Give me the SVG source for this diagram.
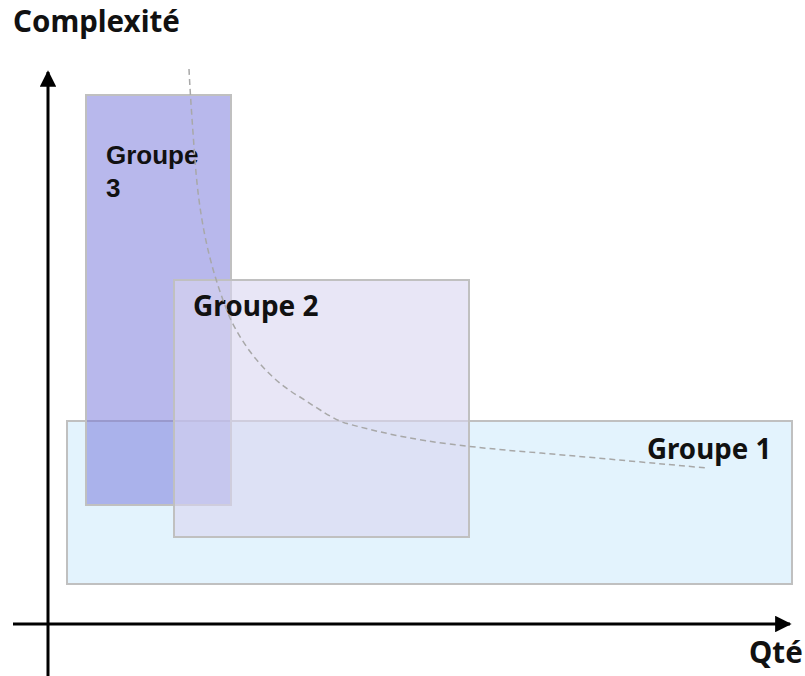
<svg xmlns="http://www.w3.org/2000/svg" width="805" height="676" viewBox="0 0 805 676">
  <style>
    .box { stroke: #c0c0c0; stroke-width: 2; }
    .lbl { font-family: "Noto Sans", "DejaVu Sans", sans-serif; font-weight: bold; fill: #111111; }
    .lbl3 { font-family: "Liberation Sans", Arial, sans-serif; font-weight: bold; fill: #111111; font-size: 26px; }
    .axis { stroke: #000000; stroke-width: 3; fill: none; }
  </style>
  <defs>
    <marker id="arr" viewBox="0 0 10 10" refX="9" refY="5" markerWidth="5.5" markerHeight="5.5" markerUnits="strokeWidth" orient="auto">
      <path d="M0,0 L10,5 L0,10 z" fill="#000000"/>
    </marker>
  </defs>
  <rect width="805" height="676" fill="#ffffff"/>

  <g id="groupe1">
    <rect class="box" x="67" y="421" width="725" height="163" fill="#e3f3fd"/>
    <text class="lbl" x="647" y="459" font-size="27.7">Groupe 1</text>
  </g>
  <g id="groupe3">
    <rect class="box" x="86" y="95" width="145" height="410" fill="#7171d9" fill-opacity="0.5"/>
    <text class="lbl3" x="106" y="164">Groupe</text>
    <text class="lbl3" x="106" y="197">3</text>
  </g>
  <g id="groupe2">
    <rect class="box" x="174" y="280" width="295" height="257" fill="#d9d5f0" fill-opacity="0.6"/>
    <text class="lbl" x="193" y="316" font-size="28">Groupe 2</text>
  </g>

  <g id="connectors">
    <path d="M189,69 C190,90 192,120 195,160 C199,215 208,265 230,318 C245,350 270,380 300,397 C320,410 335,420 345,423 C400,438 440,445 540,453 C600,458 660,464 708,468" fill="none" stroke="#a8a8a8" stroke-width="1.5" stroke-dasharray="6,4"/>
    <line class="axis" x1="48" y1="676" x2="48" y2="72" marker-end="url(#arr)"/>
    <line class="axis" x1="13" y1="624" x2="790" y2="624" marker-end="url(#arr)"/>
  </g>

  <text class="lbl" x="13" y="32" font-size="29.5">Complexité</text>
  <text class="lbl" x="749" y="663" font-size="29.5">Qté</text>
</svg>
